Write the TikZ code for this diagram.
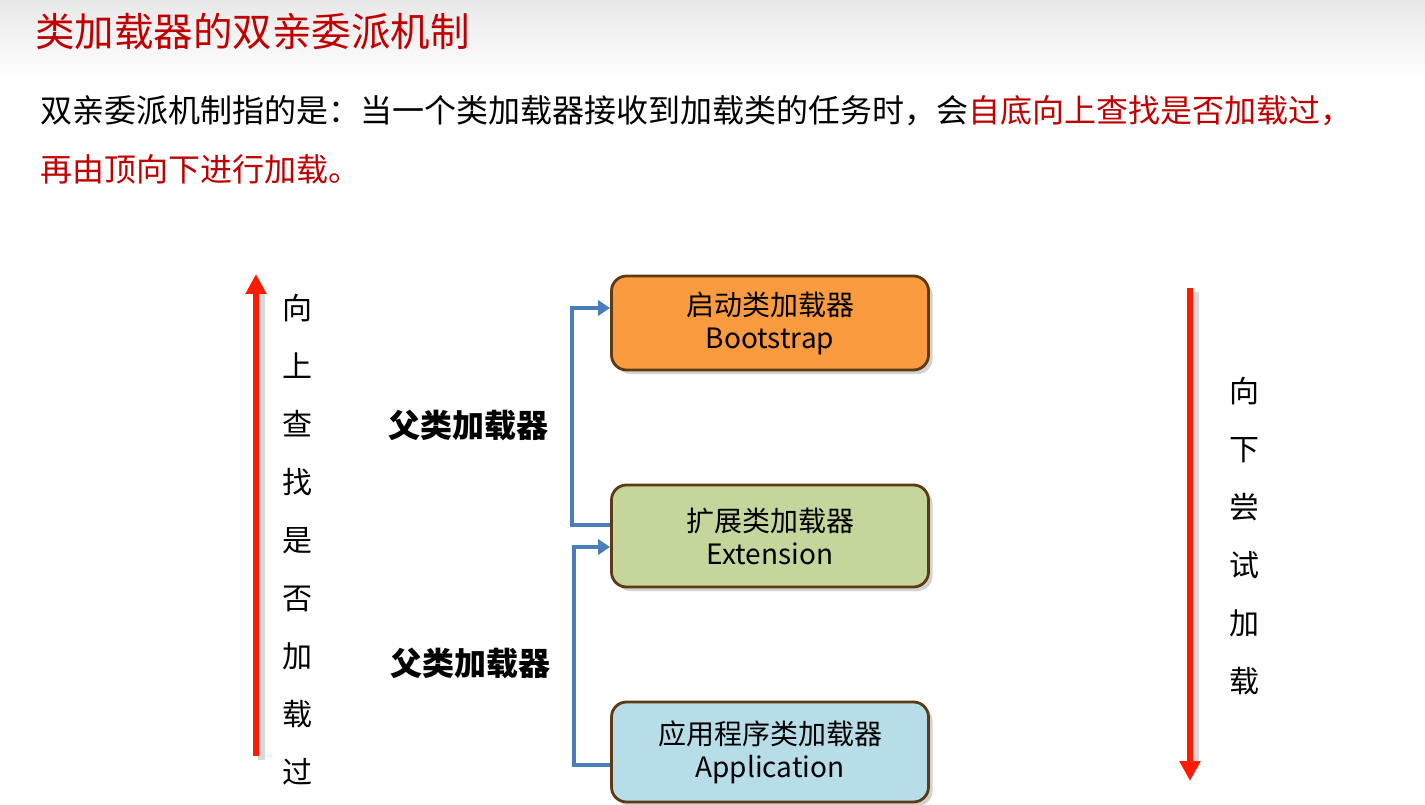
\documentclass[tikz,border=0pt]{standalone}
\usepackage{fontspec}
\setmainfont{Noto Sans CJK SC}
\usetikzlibrary{arrows.meta,shadows}
\definecolor{titlered}{HTML}{C00000}
\definecolor{boxborder}{HTML}{5C3A14}
\definecolor{orangefill}{HTML}{F99B3E}
\definecolor{greenfill}{HTML}{C5D69C}
\definecolor{bluefill}{HTML}{B7DDE8}
\definecolor{linkblue}{HTML}{4A7EBB}
\definecolor{arrowred}{HTML}{FF1A00}
\begin{document}
\begin{tikzpicture}[x=1pt,y=-1pt,
  loader/.style={draw=boxborder, line width=2.8pt, rounded corners=15pt,
    minimum width=317pt, align=center, inner sep=0pt,
    font=\fontsize{28}{33}\selectfont,
    drop shadow={shadow xshift=4pt, shadow yshift=-4pt, opacity=0.35}},
  link/.style={draw=linkblue, line width=3.5pt,
    -{Triangle[length=12pt,width=15pt]}},
  bigarrow/.style={draw=arrowred, line width=6.5pt,
    -{Triangle[length=20pt,width=20pt]}},
  arrowshadow/.style={draw=black, opacity=0.15, line width=7pt},
  vtext/.style={align=center, inner sep=0pt, font=\fontsize{30}{58}\selectfont},
  parentlabel/.style={inner sep=0pt, font=\fontsize{32}{32}\selectfont\bfseries},
  bodytext/.style={anchor=west, inner sep=0pt, font=\fontsize{32}{32}\selectfont}
]
\useasboundingbox (0,0) rectangle (1425,805);
\fill[white] (0,0) rectangle (1425,805);
\shade[top color=black!9, bottom color=white] (0,0) rectangle (1425,80);

% title
\node[anchor=west, inner sep=0pt, text=titlered, font=\fontsize{39.5}{39.5}\selectfont] (title) at (35,32) {类加载器的双亲委派机制};

% description
\node[bodytext] (line1) at (40,111) {双亲委派机制指的是：当一个类加载器接收到加载类的任务时，会\textcolor{titlered}{自底向上查找是否加载过，}};
\node[bodytext, text=titlered] (line2) at (40,169) {再由顶向下进行加载。};

% loaders
\node[loader, fill=orangefill, minimum height=94pt] (boot) at (770,323) {启动类加载器\\Bootstrap};
\node[loader, fill=greenfill, minimum height=102pt] (ext) at (770,536) {扩展类加载器\\Extension};
\node[loader, fill=bluefill, minimum height=100pt] (app) at (770,752) {应用程序类加载器\\Application};

% connectors
\draw[link] ([yshift=11pt]ext.west) -- ++(-38,0) |- ([yshift=15pt]boot.west);
\draw[link] ([yshift=-13pt]app.west) -- ++(-36,0) |- ([yshift=-11pt]ext.west);

\node[parentlabel] (p1) at (468,425) {父类加载器};
\node[parentlabel] (p2) at (470,663) {父类加载器};

% left arrow
\coordinate (lb) at (256,756);
\coordinate (lt) at (256,274);
\coordinate (lbs) at (261,760);
\coordinate (lts) at (261,290);
\draw[arrowshadow] (lbs) -- (lts);
\draw[bigarrow] (lb) -- (lt);
\node[vtext] (up) at (297,540) {向\\上\\查\\找\\是\\否\\加\\载\\过};

% right arrow
\coordinate (rt) at (1190,288);
\coordinate (rb) at (1190,781);
\coordinate (rts) at (1195,292);
\coordinate (rbs) at (1195,768);
\draw[arrowshadow] (rts) -- (rbs);
\draw[bigarrow] (rt) -- (rb);
\node[vtext] (down) at (1244,536) {向\\下\\尝\\试\\加\\载};
\end{tikzpicture}
\end{document}
